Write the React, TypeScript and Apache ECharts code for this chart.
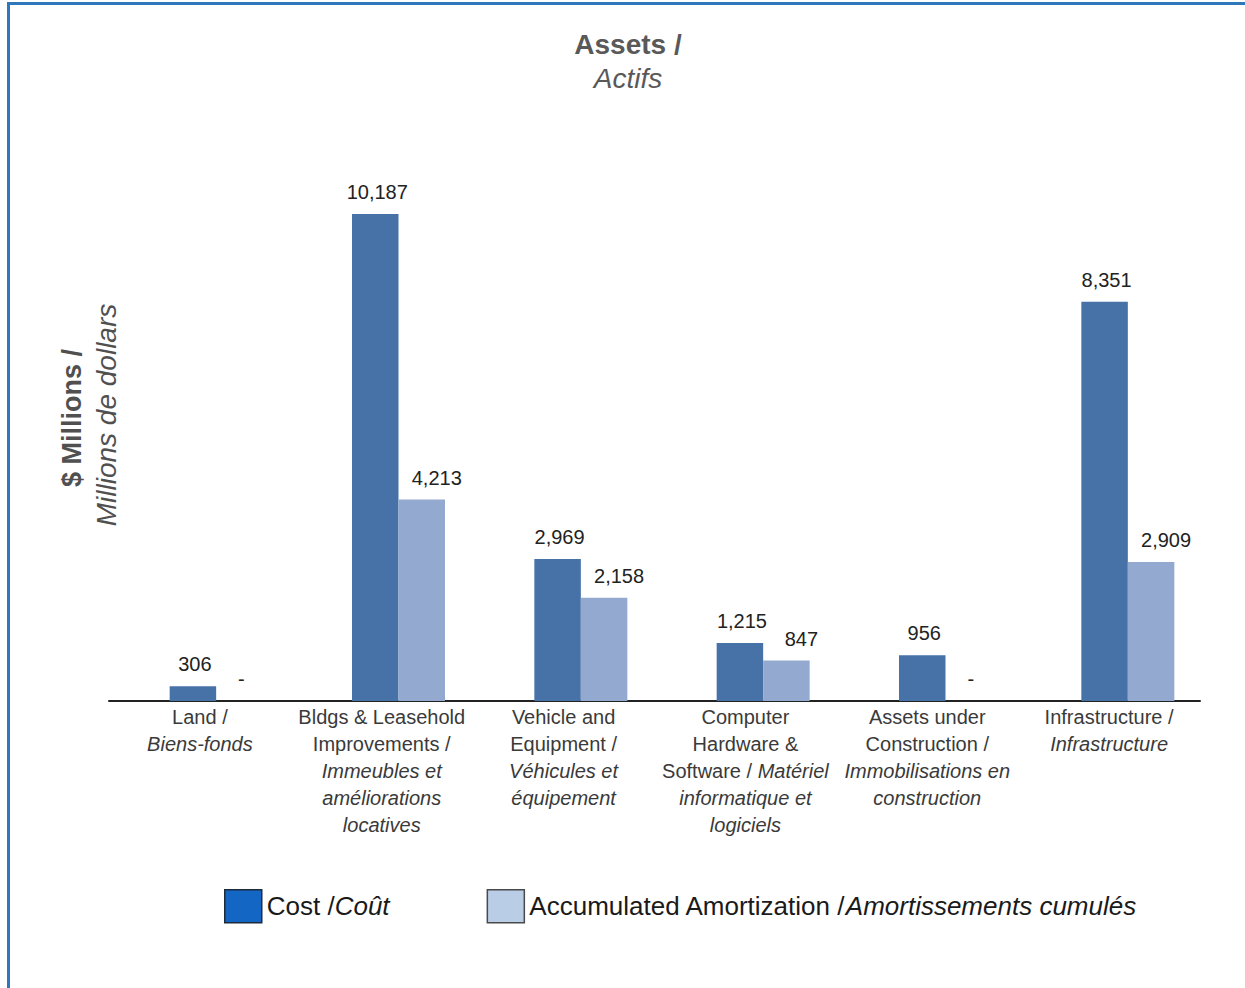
import React, { useEffect, useRef } from "react";
import * as echarts from "echarts";

// Asset classes (plain names) and their bilingual axis labels (rich text)
const categories = [
  "Land",
  "Bldgs & Leasehold Improvements",
  "Vehicle and Equipment",
  "Computer Hardware & Software",
  "Assets under Construction",
  "Infrastructure",
];

const categoryLabels = [
  "{n|Land /}\n{i|Biens-fonds}",
  "{n|Bldgs & Leasehold}\n{n|Improvements /}\n{i|Immeubles et}\n{i|améliorations}\n{i|locatives}",
  "{n|Vehicle and}\n{n|Equipment /}\n{i|Véhicules et}\n{i|équipement}",
  "{n|Computer}\n{n|Hardware &}\n{n|Software / }{i|Matériel}\n{i|informatique et}\n{i|logiciels}",
  "{n|Assets under}\n{n|Construction /}\n{i|Immobilisations en}\n{i|construction}",
  "{n|Infrastructure /}\n{i|Infrastructure}",
];

// $ millions
const costValues = [306, 10187, 2969, 1215, 956, 8351];
const amortizationValues = [0, 4213, 2158, 847, 0, 2909];

const FONT = "'Liberation Sans', Arial, sans-serif";

export default function App() {
  const ref = useRef<HTMLDivElement>(null);

  useEffect(() => {
    if (!ref.current) return;
    const chart = echarts.init(ref.current, null, { renderer: "svg" });

    const valueLabel = (offsetX: number) => ({
      show: true,
      position: "top",
      distance: 12,
      offset: [offsetX, 0],
      fontFamily: FONT,
      fontSize: 20,
      color: "#222",
      formatter: (p: any) => (p.value === 0 ? "-" : Number(p.value).toLocaleString("en-US")),
    });

    // zero values show a dash placed over the (empty) bar slot
    const amortizationData = amortizationValues.map((v) =>
      v === 0 ? { value: v, label: { offset: [2, 0] } } : v
    );

    const gridTop = 127.4;
    const gridBottom = 287;

    chart.setOption({
      animation: false,
      backgroundColor: "#fff",
      textStyle: { fontFamily: FONT },
      grid: [
        { left: 109, width: 1091, top: gridTop, bottom: gridBottom },
        { left: 125, width: 1094, top: gridTop, bottom: gridBottom },
      ],
      xAxis: [
        {
          type: "category",
          gridIndex: 0,
          data: categories,
          axisLine: { show: true, lineStyle: { color: "#222", width: 2 } },
          axisTick: { show: false },
          axisLabel: {
            interval: 0,
            margin: 2,
            formatter: (_v: string, i: number) => categoryLabels[i],
            rich: {
              n: { fontFamily: FONT, fontSize: 20, lineHeight: 27, color: "#3a3a3a" },
              i: { fontFamily: FONT, fontSize: 20, lineHeight: 27, color: "#3a3a3a", fontStyle: "italic" },
            },
          },
        },
        {
          type: "category",
          gridIndex: 1,
          data: categories,
          show: false,
        },
      ],
      yAxis: [
        { type: "value", gridIndex: 0, min: 0, max: 12000, show: false },
        { type: "value", gridIndex: 1, min: 0, max: 12000, show: false },
      ],
      legend: {
        left: 224,
        top: 889,
        padding: 0,
        icon: "rect",
        itemWidth: 37,
        itemHeight: 33,
        itemGap: 97,
        data: [
          { name: "Cost", itemStyle: { color: "#1466c4", borderColor: "#1d2b3a", borderWidth: 1.5 } },
          {
            name: "Accumulated Amortization",
            itemStyle: { color: "#b9cde6", borderColor: "#4a4a4a", borderWidth: 1.5 },
          },
        ],
        formatter: (name: string) =>
          name === "Cost"
            ? "{n|Cost /}{i|Coût}"
            : "{n|Accumulated Amortization /}{i|Amortissements cumulés}",
        textStyle: {
          rich: {
            n: { fontFamily: FONT, fontSize: 26, color: "#1a1a1a" },
            i: { fontFamily: FONT, fontSize: 26, color: "#1a1a1a", fontStyle: "italic" },
          },
        },
      },
      graphic: [
        {
          type: "text",
          x: 628,
          y: 44,
          style: {
            text: "Assets /",
            fontFamily: FONT,
            fontSize: 28,
            fontWeight: "bold",
            fill: "#595959",
            align: "center",
            verticalAlign: "middle",
          },
        },
        {
          type: "text",
          x: 628,
          y: 78,
          style: {
            text: "Actifs",
            fontFamily: FONT,
            fontSize: 28,
            fontStyle: "italic",
            fill: "#595959",
            align: "center",
            verticalAlign: "middle",
          },
        },
        {
          type: "text",
          x: 72,
          y: 418,
          rotation: Math.PI / 2,
          style: {
            text: "$ Millions /",
            fontFamily: FONT,
            fontSize: 27,
            fontWeight: "bold",
            fill: "#505050",
            align: "center",
            verticalAlign: "middle",
          },
        },
        {
          type: "text",
          x: 106,
          y: 415,
          rotation: Math.PI / 2,
          style: {
            text: "Millions de dollars",
            fontFamily: FONT,
            fontSize: 28,
            fontStyle: "italic",
            fill: "#505050",
            align: "center",
            verticalAlign: "middle",
          },
        },
      ],
      series: [
        {
          name: "Cost",
          type: "bar",
          xAxisIndex: 1,
          yAxisIndex: 1,
          data: costValues,
          barWidth: 46.5,
          barGap: "0%",
          itemStyle: { color: "#4672a8" },
          label: valueLabel(2),
        },
        {
          name: "Accumulated Amortization",
          type: "bar",
          xAxisIndex: 1,
          yAxisIndex: 1,
          data: amortizationData,
          barWidth: 46.5,
          barGap: "0%",
          itemStyle: { color: "#94a9d0" },
          label: valueLabel(15),
        },
      ],
    });

    return () => chart.dispose();
  }, []);

  return (
    <div style={{ position: "absolute", left: 0, top: 0, width: 1245, height: 988, background: "#fff" }}>
      <div ref={ref} style={{ position: "absolute", left: 0, top: 0, width: 1245, height: 988 }} />
      <div
        style={{
          position: "absolute",
          left: 7,
          top: 2,
          width: 1238,
          height: 986,
          borderTop: "3px solid #2e77bb",
          borderLeft: "3px solid #2e77bb",
          boxSizing: "border-box",
          pointerEvents: "none",
        }}
      />
    </div>
  );
}
